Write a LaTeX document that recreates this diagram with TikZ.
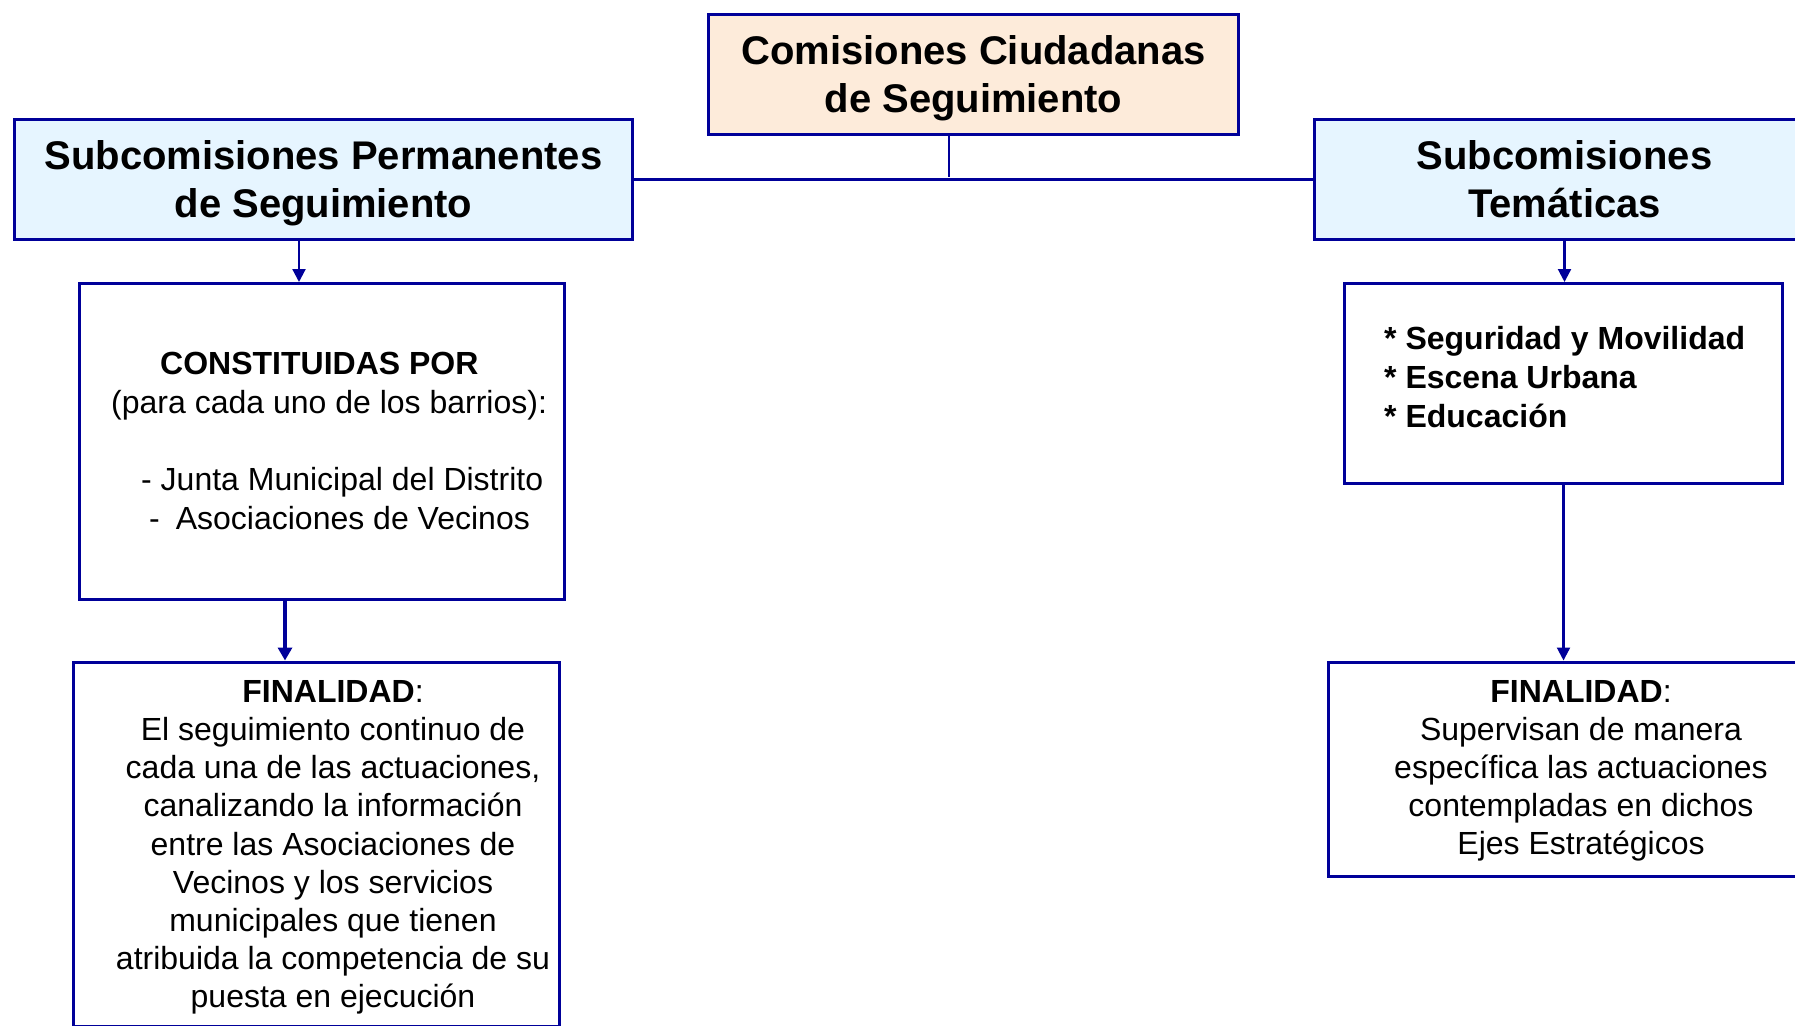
\documentclass[tikz,border=0pt]{standalone}
\usepackage{fontspec}
\setmainfont{Liberation Sans}
\usetikzlibrary{arrows.meta}
\definecolor{navy}{RGB}{0,0,153}
\definecolor{peach}{RGB}{253,235,218}
\definecolor{skyfill}{RGB}{230,245,255}
\newcommand{\nodepth}[1]{\raisebox{0pt}[\height][0pt]{#1}}
\tikzset{
  box/.style={draw=navy, line width=3pt, rectangle, inner sep=0pt, anchor=north west},
  headfont/.style={font=\fontsize{40}{48}\selectfont\bfseries, align=center},
  bodytext/.style={font=\fontsize{32}{38.2}\selectfont, inner sep=0pt},
  listtext/.style={font=\fontsize{32}{38.8}\selectfont, inner sep=0pt, align=left, anchor=north west},
  conn/.style={draw=navy, line width=2.8pt},
  arr/.style={draw=navy, line width=2.2pt, -{Triangle[width=13pt,length=13pt]}},
  thickarr/.style={draw=navy, line width=3.5pt, -{Triangle[width=14pt,length=13pt]}}
}
\begin{document}
\begin{tikzpicture}[x=1pt, y=-1pt]
\useasboundingbox (0,0) rectangle (1795,1025);
\fill[white] (0,0) rectangle (1795,1025);
\clip (0,0) rectangle (1795,1025);

% boxes
\node[box, fill=peach, minimum width=530pt, minimum height=120pt, headfont] (top) at (707,13) {Comisiones Ciudadanas\\\nodepth{de Seguimiento}};
\node[box, fill=skyfill, minimum width=618pt, minimum height=120pt, headfont] (lhead) at (13,118) {Subcomisiones Permanentes\\\nodepth{de Seguimiento}};
\node[box, fill=skyfill, minimum width=500pt, minimum height=120pt, headfont] (rhead) at (1313,118) {Subcomisiones\\Temáticas};
\node[box, minimum width=485pt, minimum height=316pt] (lcons) at (78,282) {};
\node[box, minimum width=485.5pt, minimum height=364pt] (lfin) at (72,660.5) {};
\node[box, minimum width=438pt, minimum height=200pt] (rlist) at (1343,282) {};
\node[box, minimum width=506pt, minimum height=214pt] (rfin) at (1327,660.5) {};

% texts inside boxes
\node[listtext] (lconstext) at (111,352) {\hspace*{49pt}\textbf{CONSTITUIDAS POR}\\(para cada uno de los barrios):\\\mbox{}\\\hspace*{30pt}- Junta Municipal del Distrito\\\hspace*{38pt}-\hspace{16pt}Asociaciones de Vecinos};
\node[listtext, font=\fontsize{32}{39}\selectfont\bfseries] (rlisttext) at (1384,326) {* Seguridad y Movilidad\\* Escena Urbana\\* Educación};
\node[bodytext, align=center, anchor=north] (lfintext) at (333,680) {\textbf{FINALIDAD}:\\El seguimiento continuo de\\cada una de las actuaciones,\\canalizando la información\\entre las Asociaciones de\\Vecinos y los servicios\\municipales que tienen\\atribuida la competencia de su\\puesta en ejecución};
\node[bodytext, align=center, anchor=north, font=\fontsize{32}{38}\selectfont] (rfintext) at (1581,680) {\textbf{FINALIDAD}:\\Supervisan de manera\\específica las actuaciones\\contempladas en dichos\\Ejes Estratégicos};

% connectors
\coordinate (junction) at (949,177);
\coordinate (lx1) at (299,0);
\coordinate (lx2) at (285,0);
\draw[conn] (top.south -| junction) -- (junction);
\draw[conn] (lhead.east) -- (rhead.west);
\draw[arr] (lhead.south -| lx1) -- (lcons.north -| lx1);
\draw[thickarr] (lcons.south -| lx2) -- (lfin.north -| lx2);
\draw[arr] (rhead.south) -- (rlist.north -| rhead.south);
\draw[arr] (rlist.south) -- (rfin.north -| rlist.south);
\end{tikzpicture}
\end{document}
